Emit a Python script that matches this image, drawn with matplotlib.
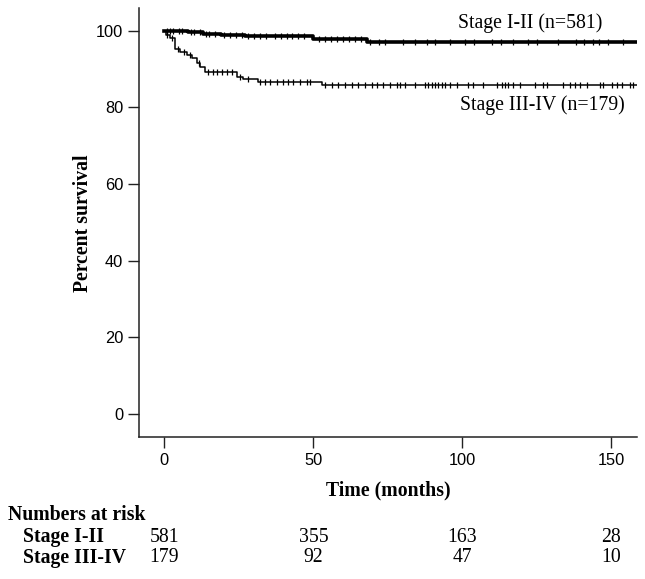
import numpy as np
import matplotlib
matplotlib.use("Agg")
from matplotlib import pyplot as plt
from matplotlib.transforms import blended_transform_factory

# Kaplan-Meier steps (time in months, percent survival)
t_early = [0, 3, 8, 13, 19, 27, 36, 50, 68, 160]
s_early = [100.0, 99.8, 99.5, 99.2, 98.9, 98.7, 98.5, 97.8, 97.1, 97.1]

t_late = [0, 0.5, 1.9, 3.6, 5.3, 7.5, 9.2, 10.9, 12.0, 13.7, 24.3, 26.5, 31.5, 52.8, 160]
s_late = [100.0, 98.9, 98.0, 95.1, 94.5, 93.7, 92.8, 91.5, 90.6, 89.3, 88.0, 87.3, 86.7, 85.9, 85.9]

# censoring marks
c_early = [1, 2, 3, 5, 6, 9, 10, 12, 14, 15, 17, 20, 22, 24, 26, 28, 30, 32, 34, 37,
           39, 41, 43, 45, 47, 52, 54, 56, 58, 60, 62, 64, 66, 69, 72, 74, 80, 84,
           88, 91, 96, 101, 104, 110, 113, 117, 122, 125, 132, 138, 141, 144,
           146, 149, 154]
c_late = [1, 2.5, 4.5, 6.5, 8.5, 11.5, 14.8, 16.4, 17.6, 19.3, 20.9, 22.6, 25.5, 28,
          32.1, 33.8, 35.5, 37.7, 39.9, 41.6, 43.3, 45.5, 47.8, 48.9,
          53.9, 56.2, 58.4, 60.6, 62.9, 65.1, 67.3, 69.6, 71.3, 73.5, 75.7, 78,
          79.1, 80.8, 84.1, 87.5, 88.6, 89.7, 90.8, 92, 93.1, 94.2, 95.9, 98.1,
          102, 103.7, 107, 111.5, 113.2, 114.3, 115.4, 117.1, 119.4, 124.4, 127.2,
          128.3, 133.9, 136.1, 137.8, 139.5, 141.7, 146.2, 147.3, 150.1, 151.8,
          153.5, 156.3, 157.4]

risk_times = [0, 50, 100, 150]
risk_early = [581, 355, 163, 28]
risk_late = [179, 92, 47, 10]
group_names = ["Stage I-II", "Stage III-IV"]


def surv_at(times, surv, c):
    idx = np.searchsorted(times, c, side="right") - 1
    return np.array(surv)[idx]


serif = "Liberation Serif"
sans = "Liberation Sans"
fs = 14.2

fig = plt.figure(figsize=(6.45, 5.79), dpi=100)
ax = fig.add_axes([0.216, 0.2444, 0.771, 0.7413])

ax.step(t_early, s_early, where="post", color="black", lw=2.6)
ax.step(t_late, s_late, where="post", color="black", lw=1.1)
ax.plot(c_early, surv_at(t_early, s_early, c_early), ls="none", marker="|",
        ms=5, mew=0.9, color="black")
ax.plot(c_late, surv_at(t_late, s_late, c_late), ls="none", marker="|",
        ms=5, mew=0.9, color="black")

ax.set_xlim(-8.4, 158.5)
ax.set_ylim(-6.1, 105.8)
ax.set_xticks([0, 50, 100, 150])
ax.set_yticks([0, 20, 40, 60, 80, 100])
ax.tick_params(direction="out", length=8, width=1, labelsize=11.8, color="#222222")
for lab in ax.get_xticklabels() + ax.get_yticklabels():
    lab.set_family(sans)
ax.spines["top"].set_visible(False)
ax.spines["right"].set_visible(False)
for sp in ("left", "bottom"):
    ax.spines[sp].set_linewidth(1.1)
    ax.spines[sp].set_color("#222222")

ax.set_ylabel("Percent survival", family=serif, fontweight="bold", fontsize=fs,
              labelpad=2)
ax.set_xlabel("Time (months)", family=serif, fontweight="bold", fontsize=fs,
              labelpad=9)

ax.text(98.6, 102, "Stage I-II (n=581)", family=serif, fontsize=fs,
        va="center", ha="left")
ax.text(99.3, 80.6, "Stage III-IV (n=179)", family=serif, fontsize=fs,
        va="center", ha="left")

# numbers at risk table
tr = blended_transform_factory(ax.transData, fig.transFigure)
fig.text(8 / 645, 1 - 515 / 579, "Numbers at risk", family=serif,
         fontweight="bold", fontsize=fs, va="center", ha="left")
for row, (name, vals) in enumerate(zip(group_names, [risk_early, risk_late])):
    y = 1 - (537 + 21 * row) / 579
    fig.text(23 / 645, y, name, family=serif, fontweight="bold", fontsize=fs,
             va="center", ha="left")
    for t, v in zip(risk_times, vals):
        ax.text(t, y, str(v), transform=tr, family=serif, fontsize=fs,
                va="center", ha="center", clip_on=False)

fig.savefig("out.png", dpi=100)
